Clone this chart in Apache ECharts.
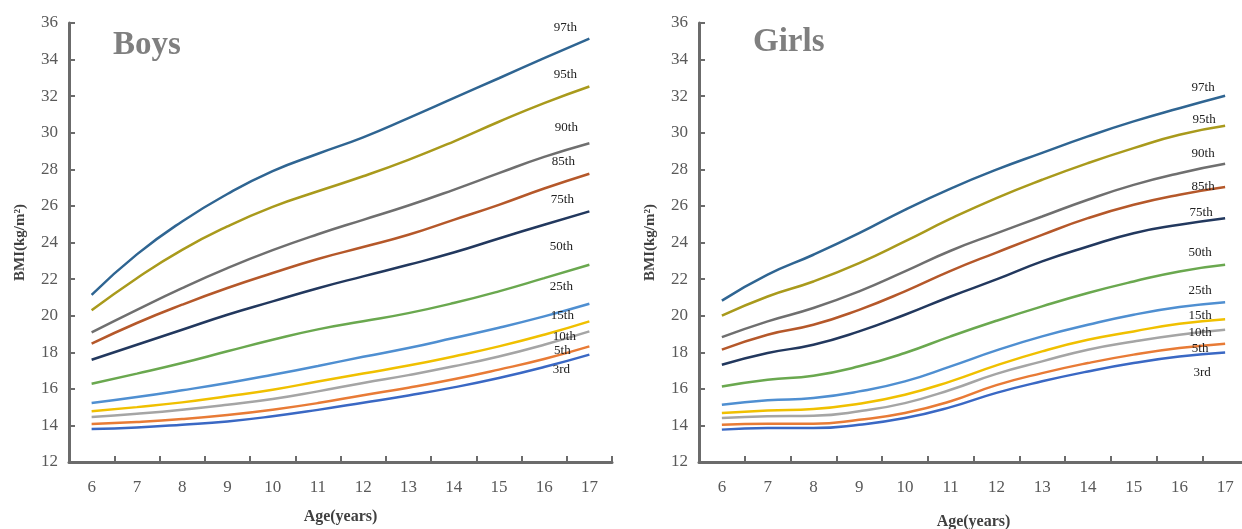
<!DOCTYPE html>
<html>
<head>
<meta charset="utf-8">
<script src="https://cdn.jsdelivr.net/npm/echarts@6/dist/echarts.min.js"></script>
<style>
html,body{margin:0;padding:0;background:#fff;}
#main{width:1242px;height:529px;}
</style>
</head>
<body>
<div id="main"></div>
<script>
const ages = ['6','7','8','9','10','11','12','13','14','15','16','17'];
const percentiles = ['97th','95th','90th','85th','75th','50th','25th','15th','10th','5th','3rd'];
const yTicks = [12,14,16,18,20,22,24,26,28,30,32,34,36];

// Boys BMI percentiles by age
const boysP97 = [21.14,23.35,25.15,26.65,27.90,28.85,29.75,30.80,31.89,32.98,34.08,35.15];
const boysP95 = [20.29,22.05,23.60,24.88,25.95,26.80,27.62,28.52,29.52,30.60,31.62,32.53];
const boysP90 = [19.09,20.32,21.51,22.60,23.58,24.45,25.24,26.02,26.88,27.79,28.68,29.43];
const boysP85 = [18.47,19.60,20.60,21.51,22.33,23.10,23.75,24.42,25.24,26.06,26.95,27.76];
const boysP75 = [17.59,18.41,19.23,20.05,20.78,21.50,22.15,22.78,23.45,24.22,24.97,25.70];
const boysP50 = [16.28,16.83,17.41,18.05,18.68,19.25,19.69,20.14,20.69,21.33,22.05,22.78];
const boysP25 = [15.22,15.55,15.92,16.32,16.77,17.25,17.75,18.23,18.78,19.34,19.96,20.65];
const boysP15 = [14.77,15.00,15.26,15.59,15.95,16.40,16.84,17.27,17.77,18.32,18.96,19.69];
const boysP10 = [14.46,14.64,14.86,15.13,15.44,15.86,16.32,16.75,17.23,17.77,18.41,19.14];
const boysP5  = [14.08,14.19,14.35,14.57,14.86,15.22,15.65,16.06,16.52,17.05,17.63,18.32];
const boysP3  = [13.80,13.89,14.04,14.22,14.50,14.85,15.24,15.64,16.08,16.59,17.19,17.87];

// Girls BMI percentiles by age
const girlsP97 = [20.82,22.24,23.33,24.51,25.79,26.95,27.98,28.90,29.80,30.62,31.34,32.02];
const girlsP95 = [20.00,21.05,21.87,22.87,24.06,25.30,26.43,27.43,28.34,29.16,29.89,30.38];
const girlsP90 = [18.83,19.69,20.42,21.33,22.42,23.55,24.50,25.42,26.34,27.15,27.79,28.30];
const girlsP85 = [18.14,18.96,19.50,20.32,21.33,22.45,23.45,24.42,25.33,26.06,26.61,27.03];
const girlsP75 = [17.32,17.96,18.41,19.14,20.05,21.05,21.98,22.97,23.78,24.51,24.97,25.33];
const girlsP50 = [16.13,16.50,16.72,17.23,17.96,18.87,19.72,20.51,21.24,21.87,22.42,22.78];
const girlsP25 = [15.13,15.37,15.50,15.86,16.41,17.23,18.10,18.87,19.50,20.05,20.47,20.74];
const girlsP15 = [14.68,14.82,14.90,15.19,15.68,16.41,17.28,18.05,18.68,19.14,19.56,19.81];
const girlsP10 = [14.40,14.50,14.53,14.77,15.22,15.95,16.82,17.50,18.14,18.59,18.96,19.23];
const girlsP5  = [14.04,14.09,14.09,14.31,14.68,15.32,16.20,16.86,17.41,17.87,18.23,18.47];
const girlsP3  = [13.77,13.86,13.86,14.04,14.40,15.00,15.78,16.41,16.95,17.41,17.77,17.99];

const boysSeries = [boysP97,boysP95,boysP90,boysP85,boysP75,boysP50,boysP25,boysP15,boysP10,boysP5,boysP3];
const girlsSeries = [girlsP97,girlsP95,girlsP90,girlsP85,girlsP75,girlsP50,girlsP25,girlsP15,girlsP10,girlsP5,girlsP3];

// styles
const colors = ['#2f6592','#a99a1c','#6f6f6f','#b5582a','#22385e','#6aa84f','#4f8fd1','#f0c000','#a5a5a5','#e87b36','#3a68c4'];
const boysLabelOffset = [[-24,-11],[-24,-12],[-23,-16],[-26,-12],[-27,-12],[-28,-18],[-28,-17],[-27,-6],[-25,5],[-27,4],[-28,15]];
const girlsLabelOffset = [[-22,-8],[-21,-6],[-22,-10],[-22,0],[-24,-6],[-25,-12],[-25,-12],[-25,-4],[-25,3],[-25,5],[-23,20]];

const FONT = '"Liberation Serif", "DejaVu Serif", serif';

function makeXAxis(gi, name, gap) {
  return {
    type: 'category', gridIndex: gi, data: ages, boundaryGap: true,
    name: name, nameLocation: 'middle', nameGap: gap, nameMoveOverlap: false,
    nameTextStyle: {fontFamily: FONT, fontWeight: 'bold', fontSize: 16, color: '#404040'},
    axisLine: {show: true, lineStyle: {color: '#6b6b6b', width: 3}},
    axisTick: {show: true, inside: true, length: 6, interval: 0, lineStyle: {color: '#6b6b6b', width: 2}},
    axisLabel: {fontFamily: FONT, fontSize: 17, color: '#595959', margin: 17, interval: 0},
    splitLine: {show: false}
  };
}
function makeYAxis(gi) {
  return {
    type: 'value', gridIndex: gi, min: yTicks[0], max: yTicks[yTicks.length-1], interval: 2,
    name: 'BMI(kg/m²)', nameLocation: 'middle', nameGap: 41, nameRotate: 90, nameMoveOverlap: false,
    nameTextStyle: {fontFamily: FONT, fontWeight: 'bold', fontSize: 15, color: '#404040'},
    axisLine: {show: true, lineStyle: {color: '#6b6b6b', width: 3}},
    axisTick: {show: true, inside: true, length: 6, lineStyle: {color: '#6b6b6b', width: 2}},
    axisLabel: {fontFamily: FONT, fontSize: 17, color: '#595959', margin: 11},
    splitLine: {show: false}
  };
}

const series = [];
function addGroup(list, gi, offsets) {
  list.forEach((vals, i) => {
    series.push({
      type: 'line', name: percentiles[i], xAxisIndex: gi, yAxisIndex: gi,
      data: vals, smooth: true, showSymbol: false, symbol: 'none',
      lineStyle: {color: colors[i], width: 2.5},
      itemStyle: {color: colors[i]},
      silent: true, animation: false,
      endLabel: {
        show: true, formatter: percentiles[i], distance: 0,
        offset: offsets[i], align: 'center', verticalAlign: 'middle',
        fontFamily: FONT, fontSize: 13, color: '#222'
      }
    });
  });
}
addGroup(boysSeries, 0, boysLabelOffset);
addGroup(girlsSeries, 1, girlsLabelOffset);

const chart = echarts.init(document.getElementById('main'), null, {renderer: 'canvas'});
chart.setOption({
  animation: false,
  backgroundColor: '#ffffff',
  title: [
    {text: 'Boys', left: 108, top: 24, textStyle: {fontFamily: FONT, fontWeight: 'bold', fontSize: 33, color: '#7f7f7f'}},
    {text: 'Girls', left: 748, top: 21, textStyle: {fontFamily: FONT, fontWeight: 'bold', fontSize: 33, color: '#7f7f7f'}}
  ],
  grid: [
    {left: 69, top: 23, width: 543, height: 439, outerBoundsMode: 'none'},
    {left: 699, top: 23, width: 549, height: 439, outerBoundsMode: 'none'}
  ],
  xAxis: [makeXAxis(0, 'Age(years)', 47), makeXAxis(1, 'Age(years)', 52)],
  yAxis: [makeYAxis(0), makeYAxis(1)],
  series: series
});
</script>
</body>
</html>
